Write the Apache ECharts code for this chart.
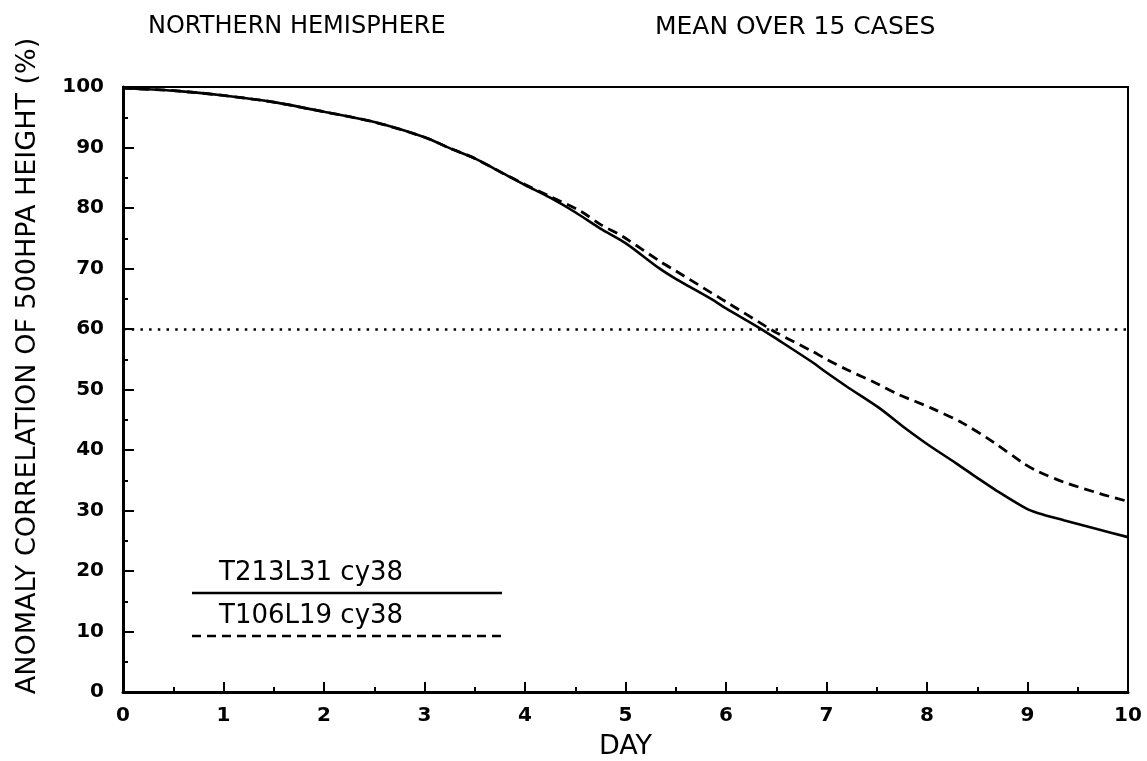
<!DOCTYPE html>
<html>
<head>
<meta charset="utf-8">
<script src="https://cdn.jsdelivr.net/npm/echarts@6/dist/echarts.min.js"></script>
<style>
html,body{margin:0;padding:0;background:#fff;}
#chart{width:1147px;height:761px;}
</style>
</head>
<body>
<div id="chart"></div>
<script>
// Data (day, anomaly correlation %)
const seriesNames = ['T213L31 cy38', 'T106L19 cy38'];
const solidDays = [0, 0.5, 1.0, 1.5, 2.0, 2.5, 3.0, 3.25, 3.5, 3.75, 4.0, 4.25, 4.5, 4.75, 5.0, 5.33, 5.5, 5.86, 6.0, 6.33, 6.5, 6.86, 7.0, 7.2, 7.52, 7.79, 8.0, 8.29, 8.5, 8.69, 8.99, 9.1, 9.36, 9.7, 10];
const solidVals = [99.8, 99.4, 98.6, 97.5, 95.9, 94.2, 91.7, 89.9, 88.2, 86.0, 83.8, 81.7, 79.3, 76.6, 74.2, 70.1, 68.3, 64.9, 63.4, 60.2, 58.4, 54.5, 52.8, 50.5, 47.0, 43.5, 41.0, 37.8, 35.4, 33.3, 30.3, 29.6, 28.4, 26.9, 25.6];
const dashedDays = [0, 0.5, 1.0, 1.5, 2.0, 2.5, 3.0, 3.25, 3.5, 3.75, 4.0, 4.25, 4.55, 4.75, 4.93, 5.0, 5.36, 5.5, 5.96, 6.0, 6.4, 6.5, 6.86, 7.0, 7.2, 7.5, 7.7, 8.06, 8.36, 8.66, 8.96, 9.1, 9.36, 9.72, 10];
const dashedVals = [99.8, 99.4, 98.6, 97.5, 95.9, 94.2, 91.7, 89.9, 88.2, 86.0, 83.9, 81.9, 79.5, 77.3, 75.7, 75.0, 71.0, 69.6, 64.9, 64.5, 60.4, 59.4, 56.3, 55.0, 53.3, 51.0, 49.3, 46.8, 44.4, 41.3, 37.8, 36.5, 34.7, 32.8, 31.5];
const refLevel = 60;
const xTicks = [0, 1, 2, 3, 4, 5, 6, 7, 8, 9, 10];
const yTicks = [0, 10, 20, 30, 40, 50, 60, 70, 80, 90, 100];
const titleLeft = 'NORTHERN HEMISPHERE';
const titleRight = 'MEAN OVER 15 CASES';
const xName = 'DAY';
const yName = 'ANOMALY CORRELATION OF 500HPA HEIGHT (%)';

const FONT = '"DejaVu Sans", "Liberation Sans", sans-serif';
const chart = echarts.init(document.getElementById('chart'), null, {renderer: 'canvas'});

const zip = (a, b) => a.map((d, i) => [d, b[i]]);

chart.setOption({
  backgroundColor: '#fff',
  animation: false,
  title: [
    {text: titleLeft, left: 143, top: 10, textStyle: {fontFamily: FONT, fontSize: 24, fontWeight: 'normal', color: '#000'}},
    {text: titleRight, left: 650, top: 10, textStyle: {fontFamily: FONT, fontSize: 25, fontWeight: 'normal', color: '#000'}}
  ],
  grid: {left: 123, right: 19, top: 87, bottom: 69, outerBoundsMode: 'none', containLabel: false,
         show: true, borderColor: '#000', borderWidth: 2, backgroundColor: 'transparent'},
  xAxis: {
    type: 'value', min: xTicks[0], max: xTicks[xTicks.length - 1], interval: 1,
    name: xName, nameLocation: 'middle', nameGap: 41,
    nameTextStyle: {fontFamily: FONT, fontSize: 27, color: '#000'},
    axisLine: {show: true, lineStyle: {color: '#000', width: 3}},
    axisTick: {show: true, inside: true, length: 10, lineStyle: {color: '#000', width: 2}},
    minorTick: {show: true, splitNumber: 2, length: 5, lineStyle: {color: '#000', width: 2}},
    axisLabel: {fontFamily: FONT, fontSize: 20, fontWeight: 'bold', color: '#000', margin: 14},
    splitLine: {show: false}
  },
  yAxis: {
    type: 'value', min: yTicks[0], max: yTicks[yTicks.length - 1], interval: 10,
    axisLine: {show: true, lineStyle: {color: '#000', width: 3}},
    axisTick: {show: true, inside: true, length: 11, lineStyle: {color: '#000', width: 2}},
    minorTick: {show: true, splitNumber: 2, length: 5, lineStyle: {color: '#000', width: 2}},
    axisLabel: {fontFamily: FONT, fontSize: 20, fontWeight: 'bold', color: '#000', margin: 19},
    splitLine: {show: false}
  },
  series: [
    {
      name: seriesNames[0], type: 'line', data: zip(solidDays, solidVals),
      showSymbol: false, smooth: 0.3,
      lineStyle: {color: '#000', width: 2.6, type: 'solid'},
      markLine: {
        silent: true, symbol: 'none', label: {show: false},
        lineStyle: {color: '#000', width: 2.5, type: [2.5, 6.2]},
        data: [{yAxis: refLevel}]
      },
      z: 3
    },
    {
      name: seriesNames[1], type: 'line', data: zip(dashedDays, dashedVals),
      showSymbol: false, smooth: 0.3,
      lineStyle: {color: '#000', width: 2.8, type: [10, 6]},
      z: 2
    }
  ],
  graphic: [
    {type: 'text', x: 28, y: 366, rotation: Math.PI / 2,
     style: {text: yName, font: '27px ' + FONT, fill: '#000', align: 'center', verticalAlign: 'middle'}},
    {type: 'text', x: 219, y: 573, style: {text: seriesNames[0], font: '26px ' + FONT, fill: '#000', verticalAlign: 'middle'}},
    {type: 'line', shape: {x1: 192, y1: 593, x2: 502, y2: 593}, style: {stroke: '#000', lineWidth: 2.6}},
    {type: 'text', x: 219, y: 616, style: {text: seriesNames[1], font: '26px ' + FONT, fill: '#000', verticalAlign: 'middle'}},
    {type: 'line', shape: {x1: 192, y1: 636, x2: 502, y2: 636}, style: {stroke: '#000', lineWidth: 2.4, lineDash: [9, 6]}}
  ]
});
</script>
</body>
</html>
